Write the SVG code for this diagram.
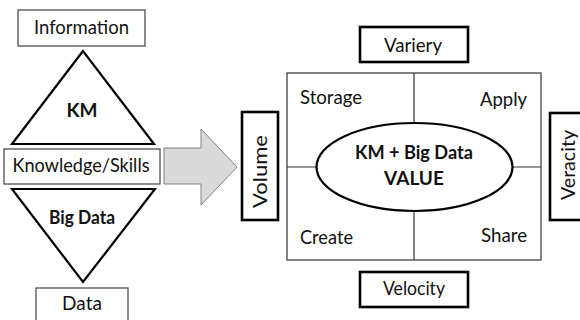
<svg xmlns="http://www.w3.org/2000/svg" width="580" height="320" viewBox="0 0 580 320">
  <style>
    text { font-family: Lato, "Liberation Sans", sans-serif; font-size: 19px; fill: #111; }
    .b { font-weight: bold; }
    .thin { fill: #fff; stroke: #404040; stroke-width: 1.2; }
    .thick { fill: #fff; stroke: #000; stroke-width: 2.6; }
    .tri { fill: #fff; stroke: #000; stroke-width: 2.2; stroke-linejoin: miter; }
    .grid { stroke: #333; stroke-width: 1.2; fill: none; }
  </style>
  <rect width="580" height="320" fill="#fff"/>

  <g id="connectors">
    <path d="M164,148 H201 V129 L237,167 L201,205 V184 H164 Z" fill="#d9d9d9" stroke="#808080" stroke-width="1"/>
  </g>

  <g id="information">
    <rect class="thin" x="18" y="10" width="127" height="36"/>
    <text x="81.5" y="34" text-anchor="middle" textLength="95" lengthAdjust="spacingAndGlyphs">Information</text>
  </g>
  <g id="km">
    <polygon class="tri" points="83,51 12,144 154,144"/>
    <text class="b" x="82" y="117" text-anchor="middle">KM</text>
  </g>
  <g id="knowledge">
    <rect class="thin" x="4" y="149" width="156" height="35"/>
    <text x="81" y="172" text-anchor="middle" textLength="137" lengthAdjust="spacingAndGlyphs">Knowledge/Skills</text>
  </g>
  <g id="bigdata">
    <polygon class="tri" points="12,189 155,189 83,282"/>
    <text class="b" x="82" y="224" text-anchor="middle" textLength="66" lengthAdjust="spacingAndGlyphs">Big Data</text>
  </g>
  <g id="data">
    <rect class="thin" x="36" y="288" width="92" height="40"/>
    <text x="82" y="310" text-anchor="middle">Data</text>
  </g>

  <g id="volume">
    <rect class="thick" x="242" y="112" width="36" height="108"/>
    <text transform="translate(267,171.5) rotate(-90)" text-anchor="middle" textLength="73" lengthAdjust="spacingAndGlyphs">Volume</text>
  </g>

  <g id="value-grid">
    <rect class="grid" x="287" y="73" width="254" height="187" fill="#fff"/>
    <line class="grid" x1="414" y1="73" x2="414" y2="260"/>
    <line class="grid" x1="287" y1="167" x2="541" y2="167"/>
    <text x="300" y="104" textLength="62" lengthAdjust="spacingAndGlyphs">Storage</text>
    <text x="527" y="106" text-anchor="end" textLength="47" lengthAdjust="spacingAndGlyphs">Apply</text>
    <text x="300" y="244" textLength="53" lengthAdjust="spacingAndGlyphs">Create</text>
    <text x="527" y="242" text-anchor="end" textLength="46" lengthAdjust="spacingAndGlyphs">Share</text>
  </g>

  <g id="value">
    <ellipse cx="414.5" cy="167" rx="98" ry="44" fill="#fff" stroke="#000" stroke-width="2.2"/>
    <text class="b" x="414" y="159" text-anchor="middle" textLength="118" lengthAdjust="spacingAndGlyphs">KM + Big Data</text>
    <text class="b" x="414" y="185" text-anchor="middle">VALUE</text>
  </g>

  <g id="variery">
    <rect class="thick" x="360" y="27" width="108" height="35"/>
    <text x="413" y="52" text-anchor="middle" textLength="58" lengthAdjust="spacingAndGlyphs">Variery</text>
  </g>
  <g id="velocity">
    <rect class="thick" x="360" y="272" width="108" height="35"/>
    <text x="414" y="295" text-anchor="middle" textLength="62" lengthAdjust="spacingAndGlyphs">Velocity</text>
  </g>
  <g id="veracity">
    <rect class="thick" x="550" y="113" width="40" height="107"/>
    <text transform="translate(575,165) rotate(-90)" text-anchor="middle" textLength="70" lengthAdjust="spacingAndGlyphs">Veracity</text>
  </g>
</svg>
